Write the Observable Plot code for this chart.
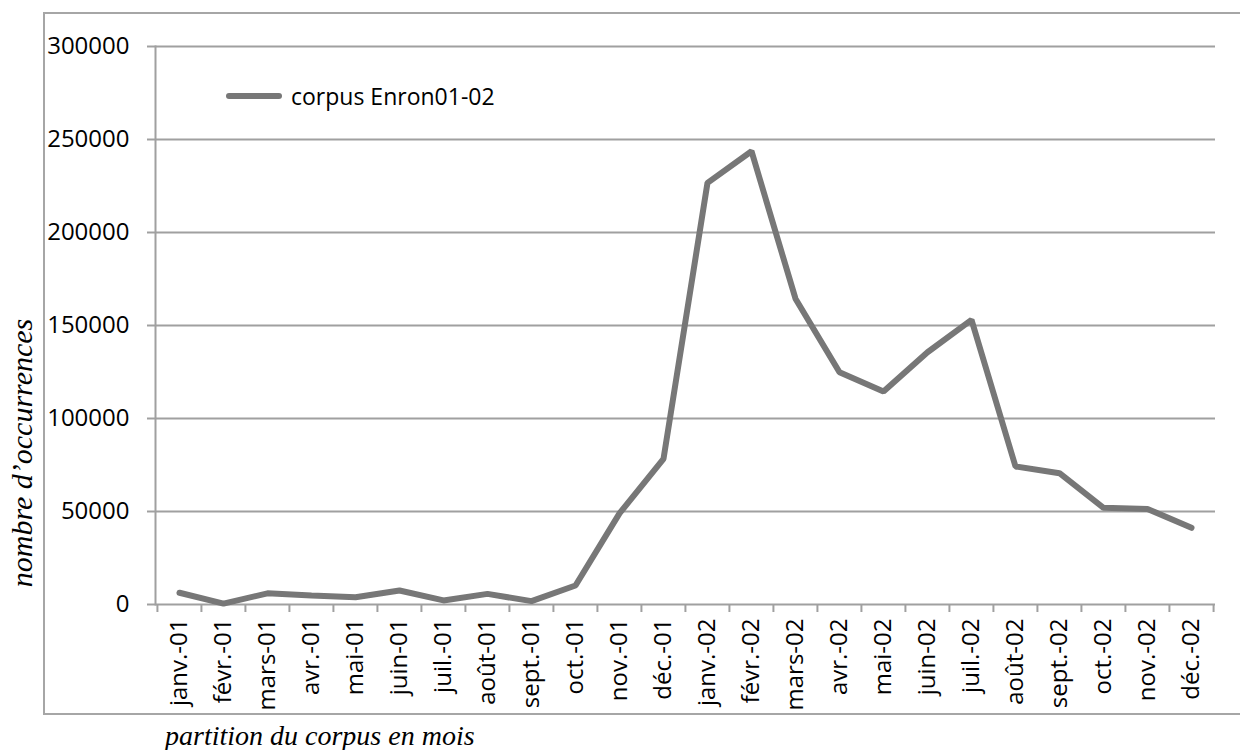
<!DOCTYPE html>
<html><head><meta charset="utf-8">
<script src="https://cdn.jsdelivr.net/npm/d3@7"></script>
<script src="https://cdn.jsdelivr.net/npm/@observablehq/plot@0.6"></script>
<style>
body{margin:0;background:#fff;}
#wrap{position:relative;width:1240px;height:750px;overflow:hidden;font-family:"Open Sans",sans-serif;}
#frame{position:absolute;left:43px;top:12px;width:1220px;height:703px;border:2px solid #a6a6a6;box-sizing:border-box;}
#chart{position:absolute;left:0;top:0;}
#legend{position:absolute;left:226px;top:80px;height:32px;display:flex;align-items:center;font-size:23px;color:#000;white-space:nowrap;}
#legend .sw{width:56px;height:6px;border-radius:3px;background:#777;margin-right:9px;}
#ytitle{position:absolute;left:22px;top:453px;transform:translate(-50%,-50%) rotate(-90deg);font-family:"Liberation Serif",serif;font-style:italic;font-size:30px;white-space:nowrap;}
#xtitle{position:absolute;left:165px;top:720px;font-family:"Liberation Serif",serif;font-style:italic;font-size:28px;white-space:nowrap;line-height:32px;}
</style>
</head><body>
<div id="wrap">
<div id="frame"></div>
<div id="chart"></div>
<div id="legend"><span class="sw"></span><span id="legtext"></span></div>
<div id="ytitle"></div>
<div id="xtitle"></div>
</div>
<script>
const months = ["janv.-01","févr.-01","mars-01","avr.-01","mai-01","juin-01","juil.-01","août-01","sept.-01","oct.-01","nov.-01","déc.-01","janv.-02","févr.-02","mars-02","avr.-02","mai-02","juin-02","juil.-02","août-02","sept.-02","oct.-02","nov.-02","déc.-02"];
const occurrences = [6300,500,6000,4800,3900,7500,2200,5700,1800,10200,49000,78300,226700,243700,164400,124900,114500,135600,153000,74200,70600,52000,51400,41200];
const yTicks = [0,50000,100000,150000,200000,250000,300000];
const seriesName = "corpus Enron01-02";
const yTitle = "nombre d’occurrences";
const xTitle = "partition du corpus en mois";

const data = months.map((m,i)=>({month:m, value:occurrences[i]}));
const W = 1240, H = 750, ML = 155, MR = 25, MT = 46, MB = 146;
const step = (W - ML - MR) / months.length;
const grid = "#a0a0a0";

const chart = Plot.plot({
  width: W, height: H,
  marginLeft: ML, marginRight: MR, marginTop: MT, marginBottom: MB,
  style: {fontFamily: "Open Sans", fontSize: "24px", color: "#000", background: "transparent", overflow: "visible"},
  x: {type: "point", domain: months, padding: 0.5},
  y: {domain: [0, 300000]},
  marks: [
    Plot.gridY(yTicks, {stroke: grid, strokeOpacity: 1, strokeWidth: 2}),
    Plot.frame({anchor: "left", stroke: grid, strokeWidth: 2}),
    Plot.axisY(yTicks, {tickSize: 8, tickPadding: 18, stroke: grid, strokeWidth: 2, fill: "#000", tickFormat: d => String(d), label: null, fontSize: 24}),
    Plot.axisX(months, {tickSize: 8, dx: -step/2, stroke: grid, strokeWidth: 2, tickFormat: () => "", label: null}),
    Plot.axisX([months[months.length-1]], {tickSize: 8, dx: step/2, stroke: grid, strokeWidth: 2, tickFormat: () => "", label: null}),
    Plot.axisX(months, {tickSize: 0, tickRotate: -90, tickPadding: 14, fill: "#000", label: null, fontSize: 24}),
    Plot.line(data, {x: "month", y: "value", stroke: "#777", strokeWidth: 6, strokeLinecap: "round", strokeLinejoin: "miter"})
  ]
});
document.getElementById("chart").appendChild(chart);
document.getElementById("legtext").textContent = seriesName;
document.getElementById("ytitle").textContent = yTitle;
document.getElementById("xtitle").textContent = xTitle;
</script>
</body></html>
